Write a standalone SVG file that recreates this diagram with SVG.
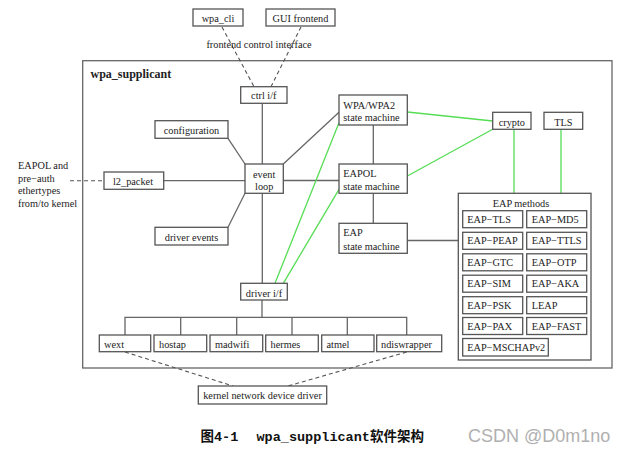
<svg xmlns="http://www.w3.org/2000/svg" width="628" height="456" viewBox="0 0 628 456">
<style>
text{font-family:"Liberation Serif","Times New Roman",serif;font-size:10.3px;fill:#222}
.b{fill:#fff;stroke:#555;stroke-width:1.3}
.l{stroke:#666;stroke-width:1.3;fill:none}
.d{stroke:#555;stroke-width:1.1;fill:none;stroke-dasharray:4,3}
.g{stroke:#55dd55;stroke-width:1.3;fill:none}
.c{text-anchor:middle}
.cap{font-family:"Liberation Mono","Noto Sans CJK SC",monospace;font-weight:bold;font-size:13.5px;fill:#111}
</style>
<rect width="628" height="456" fill="#fff"/>
<g id="frame">
<rect x="82.7" y="60.7" width="529.3" height="307.3" fill="none" stroke="#666" stroke-width="1.3"/>
<text x="90.5" y="78" style="font-weight:bold;font-size:12px">wpa_supplicant</text>
</g>
<g id="connectors">
<line class="d" x1="222" y1="27" x2="254" y2="86.7"/>
<line class="d" x1="301" y1="27" x2="271" y2="86.7"/>
<line class="d" x1="70" y1="180.7" x2="104" y2="180.7"/>
<line class="d" x1="125" y1="352" x2="233" y2="386"/>
<line class="d" x1="406.7" y1="352" x2="288" y2="386"/>
<line class="l" x1="262.3" y1="103.3" x2="262.3" y2="164"/>
<line class="l" x1="262.3" y1="193.3" x2="262.3" y2="283.3"/>
<line class="l" x1="228" y1="138.3" x2="245" y2="164"/>
<line class="l" x1="228" y1="227.3" x2="245" y2="193.3"/>
<line class="l" x1="163.7" y1="180.7" x2="245" y2="180.7"/>
<line class="l" x1="283.3" y1="164" x2="339" y2="112.3"/>
<line class="l" x1="283.3" y1="180.5" x2="339" y2="180.5"/>
<line class="l" x1="373.3" y1="125" x2="373.3" y2="164"/>
<line class="l" x1="373.3" y1="193.3" x2="373.3" y2="223.3"/>
<line class="l" x1="407.3" y1="240.5" x2="458.3" y2="240.5"/>
<line class="l" x1="262" y1="300" x2="262" y2="317.3"/>
<polyline class="l" points="125,335 125,317.3 406.7,317.3 406.7,335"/>
<line class="l" x1="180.7" y1="317.3" x2="180.7" y2="335"/>
<line class="l" x1="236.7" y1="317.3" x2="236.7" y2="335"/>
<line class="l" x1="292" y1="317.3" x2="292" y2="335"/>
<line class="l" x1="347.3" y1="317.3" x2="347.3" y2="335"/>
<line class="g" x1="407.3" y1="112" x2="492.7" y2="121"/>
<line class="g" x1="492.7" y1="129.3" x2="407.3" y2="176"/>
<line class="g" x1="514" y1="129.3" x2="514" y2="193.3"/>
<line class="g" x1="561" y1="129.3" x2="561" y2="193.3"/>
<line class="g" x1="275" y1="283.3" x2="339" y2="122.7"/>
<line class="g" x1="283.3" y1="283.3" x2="339" y2="189.3"/>
</g>
<g id="wpa_cli"><rect class="b" x="193" y="9" width="50" height="17"/><text class="c" x="218" y="22">wpa_cli</text></g>
<g id="gui"><rect class="b" x="266" y="9" width="69" height="17"/><text class="c" x="300.5" y="22">GUI frontend</text></g>
<g id="fci"><text class="c" x="259" y="48">frontend control interface</text></g>
<g id="ctrl"><rect class="b" x="240.7" y="86.7" width="46.3" height="16.6"/><text class="c" x="263.8" y="99">ctrl i/f</text></g>
<g id="configuration"><rect class="b" x="155" y="120.7" width="73" height="17.6"/><text class="c" x="191.5" y="133.5">configuration</text></g>
<g id="eventloop"><rect class="b" x="245" y="164" width="38.3" height="29.3"/><text class="c" x="264.2" y="177.5">event</text><text class="c" x="264.2" y="189.5">loop</text></g>
<g id="l2"><rect class="b" x="104" y="172" width="59.7" height="17.3"/><text class="c" x="133" y="185">l2_packet</text></g>
<g id="extlabel"><text x="18" y="169">EAPOL and</text><text x="18" y="181.5">pre−auth</text><text x="18" y="194">ethertypes</text><text x="18" y="207">from/to kernel</text></g>
<g id="driverevents"><rect class="b" x="155" y="227.3" width="73" height="17.7"/><text class="c" x="191.5" y="240.5">driver events</text></g>
<g id="wpa2"><rect class="b" x="339" y="95" width="68.3" height="30"/><text x="343.3" y="108.5">WPA/WPA2</text><text x="343.3" y="121">state machine</text></g>
<g id="eapol"><rect class="b" x="339" y="164" width="68.3" height="29.3"/><text x="343.3" y="177">EAPOL</text><text x="343.3" y="189.5">state machine</text></g>
<g id="eap"><rect class="b" x="339" y="223.3" width="68.3" height="30"/><text x="343.3" y="236">EAP</text><text x="343.3" y="249.5">state machine</text></g>
<g id="crypto"><rect class="b" x="492.7" y="112.3" width="38.3" height="17"/><text class="c" x="511.8" y="125.5">crypto</text></g>
<g id="tls"><rect class="b" x="544" y="112.3" width="38.7" height="17"/><text class="c" x="563.3" y="125.5">TLS</text></g>
<g id="eapmethods">
<rect class="b" x="458.3" y="193.3" width="132.7" height="166.7"/>
<text class="c" x="521" y="207">EAP methods</text>
<g class="m">
<rect class="b" x="462.7" y="210.7" width="60" height="17"/><text x="467.3" y="222.7">EAP−TLS</text>
<rect class="b" x="526.7" y="210.7" width="60" height="17"/><text x="531.7" y="222.7">EAP−MD5</text>
<rect class="b" x="462.7" y="232.3" width="60" height="17"/><text x="467.3" y="244.3">EAP−PEAP</text>
<rect class="b" x="526.7" y="232.3" width="60" height="17"/><text x="531.7" y="244.3">EAP−TTLS</text>
<rect class="b" x="462.7" y="253.8" width="60" height="17"/><text x="467.3" y="265.8">EAP−GTC</text>
<rect class="b" x="526.7" y="253.8" width="60" height="17"/><text x="531.7" y="265.8">EAP−OTP</text>
<rect class="b" x="462.7" y="275.2" width="60" height="17"/><text x="467.3" y="287.2">EAP−SIM</text>
<rect class="b" x="526.7" y="275.2" width="60" height="17"/><text x="531.7" y="287.2">EAP−AKA</text>
<rect class="b" x="462.7" y="296.7" width="60" height="17"/><text x="467.3" y="308.7">EAP−PSK</text>
<rect class="b" x="526.7" y="296.7" width="60" height="17"/><text x="531.7" y="308.7">LEAP</text>
<rect class="b" x="462.7" y="317.5" width="60" height="17"/><text x="467.3" y="329.5">EAP−PAX</text>
<rect class="b" x="526.7" y="317.5" width="60" height="17"/><text x="531.7" y="329.5">EAP−FAST</text>
<rect class="b" x="462.7" y="338.5" width="85.6" height="17.5"/><text x="467.3" y="350.8">EAP−MSCHAPv2</text>
</g>
</g>
<g id="driverif"><rect class="b" x="240.7" y="283.3" width="46.6" height="16.7"/><text class="c" x="264" y="296.5">driver i/f</text></g>
<g id="wext"><rect class="b" x="99.3" y="335" width="51.4" height="16.7"/><text x="104" y="348">wext</text></g>
<g id="hostap"><rect class="b" x="154" y="335" width="52.7" height="16.7"/><text x="159" y="348">hostap</text></g>
<g id="madwifi"><rect class="b" x="210" y="335" width="52.7" height="16.7"/><text x="215" y="348">madwifi</text></g>
<g id="hermes"><rect class="b" x="265.7" y="335" width="52.6" height="16.7"/><text x="270.5" y="348">hermes</text></g>
<g id="atmel"><rect class="b" x="321.7" y="335" width="52.3" height="16.7"/><text x="326.5" y="348">atmel</text></g>
<g id="ndiswrapper"><rect class="b" x="376.7" y="335" width="65" height="16.7"/><text x="381" y="348">ndiswrapper</text></g>
<g id="kernel"><rect class="b" x="198.3" y="386" width="128.4" height="18"/><text class="c" x="262.5" y="399">kernel network device driver</text></g>
<g id="caption">
<text class="cap" x="200.5" y="441"><tspan>图4-1</tspan><tspan x="256.5">wpa_supplicant软件架构</tspan></text>
<text x="468" y="442" style="font-family:'Liberation Sans',Arial,sans-serif;font-size:18px;fill:#b0b0b0">CSDN @D0m1no</text>
</g>
</svg>
